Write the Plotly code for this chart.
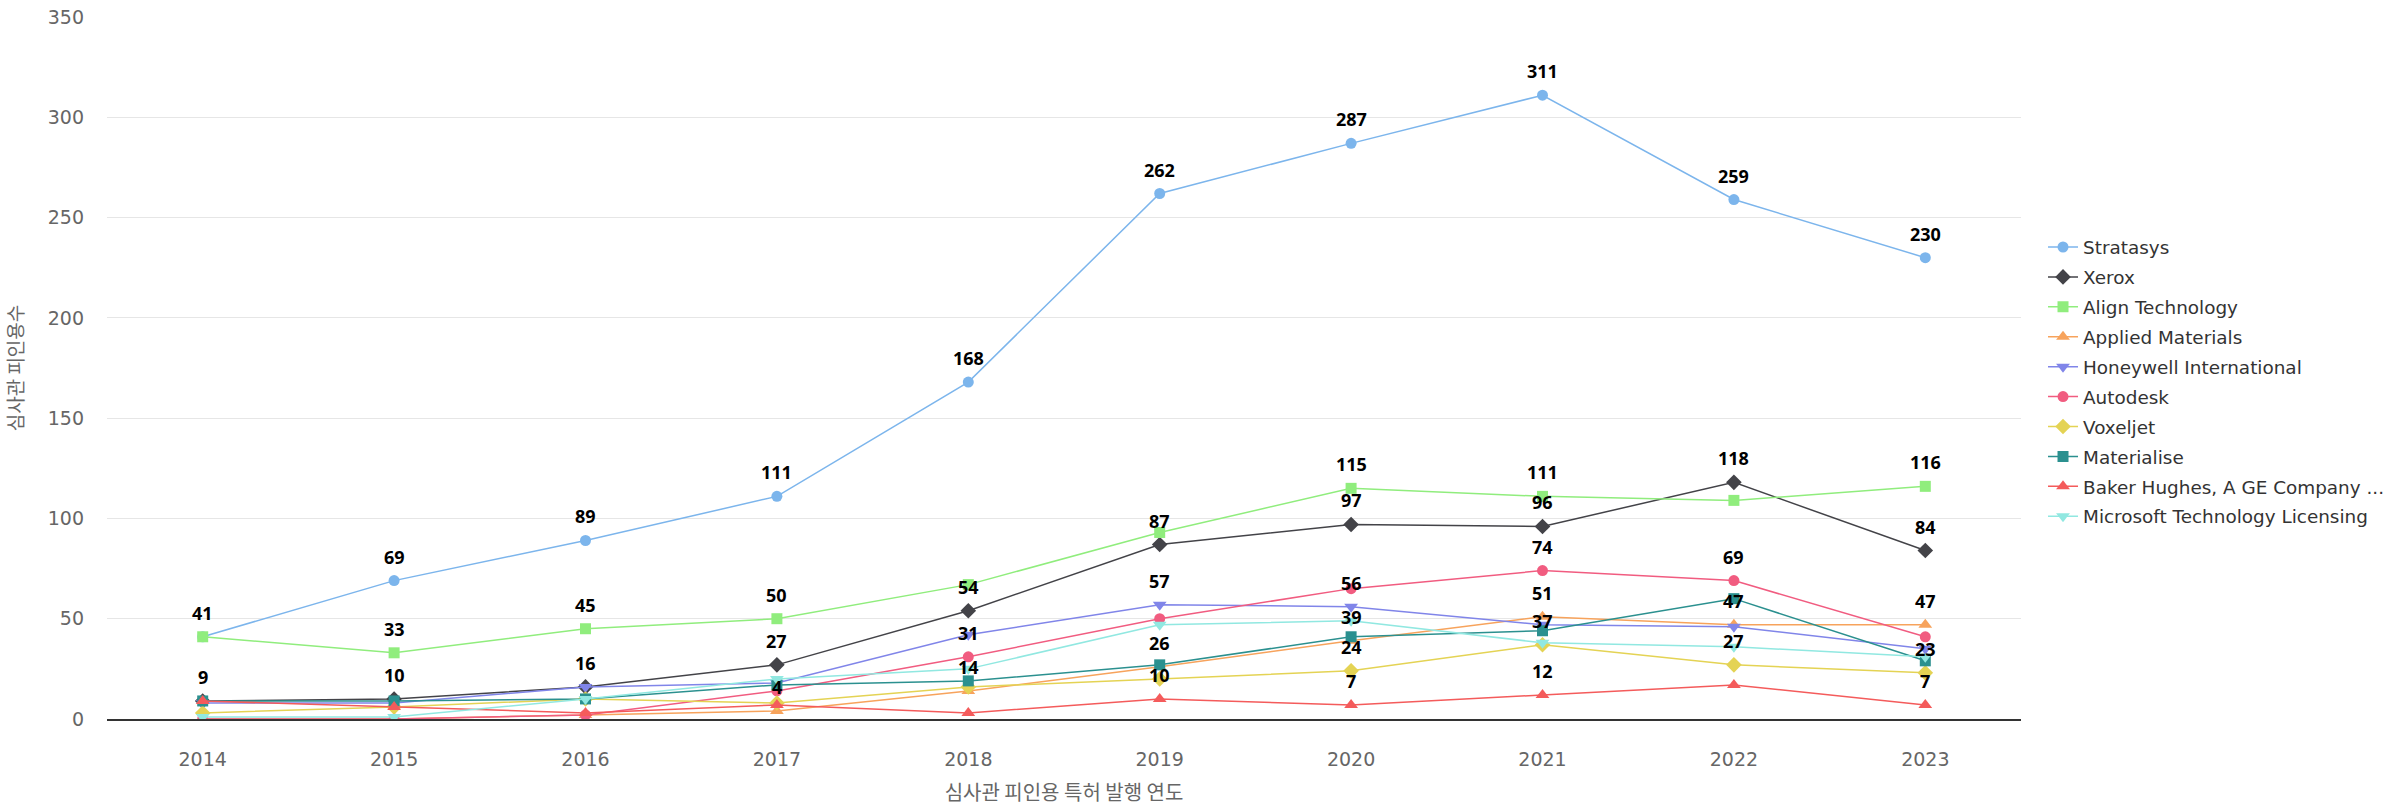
import plotly.graph_objects as go

years = ["2014", "2015", "2016", "2017", "2018", "2019", "2020", "2021", "2022", "2023"]

series_names = ["Stratasys", "Xerox", "Align Technology", "Applied Materials",
                "Honeywell International", "Autodesk", "Voxeljet", "Materialise",
                "Baker Hughes, A GE Company ...", "Microsoft Technology Licensing"]

stratasys = [41, 69, 89, 111, 168, 262, 287, 311, 259, 230]
xerox = [9, 10, 16, 27, 54, 87, 97, 96, 118, 84]
align_tech = [41, 33, 45, 50, 67, 93, 115, 111, 109, 116]
applied_materials = [0, 0, 2, 4, 14, 26, 39, 51, 47, 47]
honeywell = [8, 8, 16, 18, 42, 57, 56, 47, 46, 35]
autodesk = [0, 0, 2, 14, 31, 50, 65, 74, 69, 41]
voxeljet = [3, 6, 10, 8, 16, 20, 24, 37, 27, 23]
materialise = [9, 9, 10, 17, 19, 27, 41, 44, 60, 29]
baker_hughes = [9, 6, 3, 7, 3, 10, 7, 12, 17, 7]
microsoft = [1, 1, 10, 20, 25, 47, 49, 38, 36, 31]

# which data labels are visible (others hidden by overlap in the original)
label_stratasys = [1, 1, 1, 1, 1, 1, 1, 1, 1, 1]
label_xerox = [1, 1, 1, 1, 1, 1, 1, 1, 1, 1]
label_align = [0, 1, 1, 1, 0, 0, 1, 1, 0, 1]
label_applied = [0, 0, 0, 1, 1, 1, 1, 1, 1, 1]
label_honeywell = [0, 0, 0, 0, 0, 1, 1, 0, 0, 0]
label_autodesk = [0, 0, 0, 0, 1, 0, 0, 1, 1, 0]
label_voxeljet = [0, 0, 0, 0, 0, 0, 1, 1, 1, 1]
label_materialise = [0, 0, 0, 0, 0, 0, 0, 0, 0, 0]
label_baker = [0, 0, 0, 0, 0, 1, 1, 1, 0, 1]
label_microsoft = [0, 0, 0, 0, 0, 0, 0, 0, 0, 0]

values = [stratasys, xerox, align_tech, applied_materials, honeywell,
          autodesk, voxeljet, materialise, baker_hughes, microsoft]
labels = [label_stratasys, label_xerox, label_align, label_applied, label_honeywell,
          label_autodesk, label_voxeljet, label_materialise, label_baker, label_microsoft]

colors = ["#7cb5ec", "#434348", "#90ed7d", "#f7a35c", "#8085e9",
          "#f15c80", "#e4d354", "#2b908f", "#f45b5b", "#91e8e1"]
symbols = ["circle", "diamond", "square", "triangle-up", "triangle-down",
           "circle", "diamond", "square", "triangle-up", "triangle-down"]
sizes = [11, 12, 11, 12, 12, 11, 12, 11, 12, 12]

fig = go.Figure()
for i, name in enumerate(series_names):
    fig.add_trace(go.Scatter(
        x=years, y=values[i], name=name, mode="lines+markers",
        line=dict(color=colors[i], width=1.5),
        marker=dict(symbol=symbols[i], size=sizes[i], color=colors[i]),
        legendgroup=name,
    ))

annotations = []
for i in range(len(series_names)):
    for j, yr in enumerate(years):
        if labels[i][j]:
            annotations.append(dict(
                x=j, y=values[i][j], xref="x", yref="y",
                text=str(values[i][j]), showarrow=False,
                yshift=24, xanchor="center", yanchor="middle",
                font=dict(family="Noto Sans", size=18, color="#000000", weight="bold"),
            ))

fig.update_layout(
    width=2388, height=809,
    margin=dict(l=107, r=367, t=17, b=90, autoexpand=False),
    paper_bgcolor="white", plot_bgcolor="white",
    font=dict(family="DejaVu Sans", color="#666666"),
    annotations=annotations,
    showlegend=True,
    legend=dict(
        x=1.0115, xanchor="left", y=0.48, yanchor="middle",
        font=dict(family="DejaVu Sans", size=18.4, color="#333333"),
        itemwidth=30, tracegroupgap=3, bgcolor="rgba(0,0,0,0)",
    ),
    xaxis=dict(
        type="category", range=[-0.5, 9.5], automargin=False,
        showgrid=False, showline=True, linecolor="#333333", linewidth=2,
        ticks="", tickfont=dict(family="DejaVu Sans", size=19, color="#666666"),
        ticklabelstandoff=22,
        title=dict(text="심사관 피인용 특허 발행 연도", standoff=17,
                   font=dict(family="Noto Sans CJK KR", size=20, color="#666666")),
        zeroline=False,
    ),
    yaxis=dict(
        range=[0, 350], dtick=50, showgrid=True, gridcolor="#e6e6e6", gridwidth=1,
        showline=False, zeroline=False, ticks="", automargin=False,
        tickfont=dict(family="DejaVu Sans", size=19, color="#666666"),
        ticklabelstandoff=22,
        title=dict(text="심사관 피인용수", standoff=19,
                   font=dict(family="Noto Sans CJK KR", size=19, color="#666666")),
    ),
)

fig.write_html("out.html")
